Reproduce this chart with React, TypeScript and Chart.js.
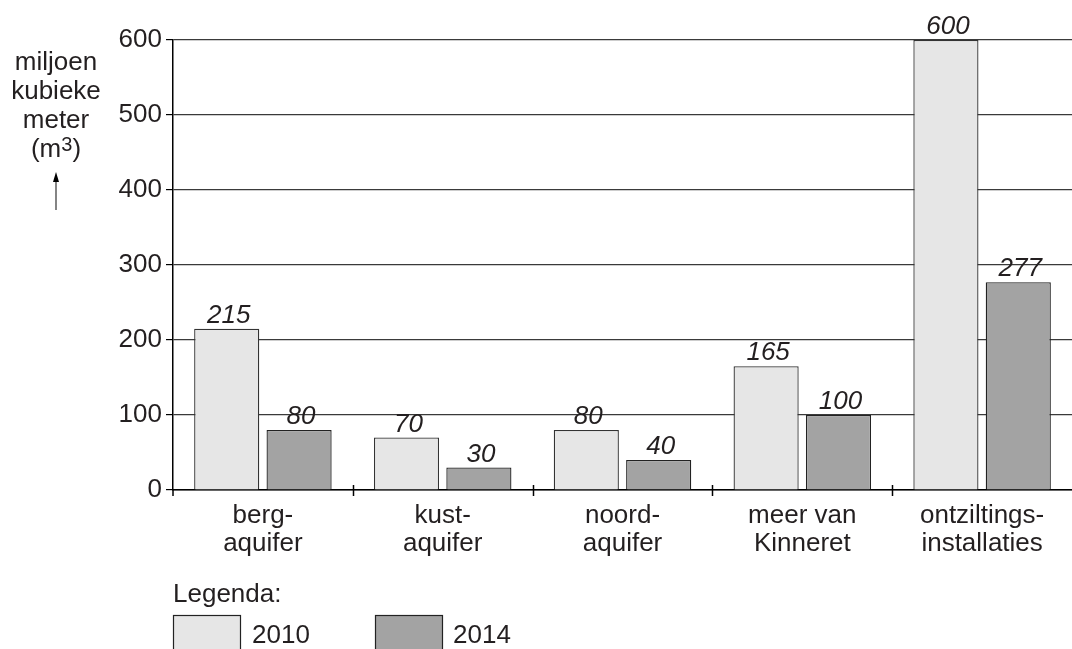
import React, { useEffect, useRef } from "react";
import { Chart, registerables } from "chart.js";

Chart.register(...registerables);

const categories: string[][] = [
  ["berg-", "aquifer"],
  ["kust-", "aquifer"],
  ["noord-", "aquifer"],
  ["meer van", "Kinneret"],
  ["ontziltings-", "installaties"],
];
const values2010: number[] = [215, 70, 80, 165, 600];
const values2014: number[] = [80, 30, 40, 100, 277];
const seriesNames: string[] = ["2010", "2014"];
const yTitleLines: string[] = ["miljoen", "kubieke", "meter"];
const legendTitle = "Legenda:";

const FONT = "'Liberation Sans', Arial, sans-serif";
const TEXT = "#231f20";
const C2010 = "#e6e6e6";
const C2014 = "#a3a3a3";
const FS = 26;

const overlay = {
  id: "overlay",
  afterDatasetsDraw(chart: any) {
    const ctx = chart.ctx;
    ctx.save();
    ctx.fillStyle = TEXT;
    ctx.font = `italic ${FS}px ${FONT}`;
    ctx.textAlign = "center";
    ctx.textBaseline = "alphabetic";
    chart.data.datasets.forEach((ds: any, di: number) => {
      const meta = chart.getDatasetMeta(di);
      meta.data.forEach((el: any, i: number) => {
        ctx.fillText(String(ds.data[i]), el.x + 2, el.y - 6);
      });
    });
    ctx.restore();
  },
  afterDraw(chart: any) {
    const ctx = chart.ctx;
    const y = chart.scales.y;
    const area = chart.chartArea;
    ctx.save();
    // x-axis category boundary ticks (crossing axis)
    ctx.strokeStyle = "#000";
    ctx.lineWidth = 1.5;
    const y0 = y.getPixelForValue(0);
    const n = categories.length;
    const step = (area.right - area.left) / n;
    for (let i = 1; i < n; i++) {
      const px = Math.round(area.left + step * i) + 0.5;
      ctx.beginPath();
      ctx.moveTo(px, y0 - 5);
      ctx.lineTo(px, y0 + 6);
      ctx.stroke();
    }
    ctx.beginPath();
    ctx.moveTo(area.left, y0);
    ctx.lineTo(area.left, y0 + 6);
    ctx.stroke();
    // y-axis title
    ctx.fillStyle = TEXT;
    ctx.font = `${FS}px ${FONT}`;
    ctx.textAlign = "center";
    ctx.textBaseline = "alphabetic";
    const cx = 56;
    yTitleLines.forEach((t, i) => {
      ctx.fillText(t, cx, 70 + i * 29);
    });
    // (m3)
    ctx.textAlign = "left";
    const p1 = "(m";
    const sup = "3";
    const p2 = ")";
    ctx.font = `${FS}px ${FONT}`;
    const w1 = ctx.measureText(p1).width;
    const w3 = ctx.measureText(p2).width;
    ctx.font = `20px ${FONT}`;
    const w2 = ctx.measureText(sup).width;
    const total = w1 + w2 + w3;
    let sx = cx - total / 2;
    const by = 70 + 3 * 29;
    ctx.font = `${FS}px ${FONT}`;
    ctx.fillText(p1, sx, by);
    sx += w1;
    ctx.font = `20px ${FONT}`;
    ctx.fillText(sup, sx, by - 6);
    sx += w2;
    ctx.font = `${FS}px ${FONT}`;
    ctx.fillText(p2, sx, by);
    // arrow
    ctx.strokeStyle = "#333";
    ctx.lineWidth = 1.2;
    ctx.beginPath();
    ctx.moveTo(56, 210);
    ctx.lineTo(56, 178);
    ctx.stroke();
    ctx.fillStyle = "#000";
    ctx.beginPath();
    ctx.moveTo(56, 172);
    ctx.lineTo(53, 182);
    ctx.lineTo(59, 182);
    ctx.closePath();
    ctx.fill();
    // legend
    ctx.fillStyle = TEXT;
    ctx.font = `${FS}px ${FONT}`;
    ctx.textAlign = "left";
    ctx.fillText(legendTitle, 173, 602);
    const items = [
      { name: seriesNames[0], color: C2010, bx: 173, tx: 252 },
      { name: seriesNames[1], color: C2014, bx: 375, tx: 453 },
    ];
    items.forEach((it) => {
      ctx.fillStyle = it.color;
      ctx.fillRect(it.bx + 0.5, 615.5, 67, 40);
      ctx.strokeStyle = "#222";
      ctx.lineWidth = 1.2;
      ctx.strokeRect(it.bx + 0.5, 615.5, 67, 40);
      ctx.fillStyle = TEXT;
      ctx.fillText(it.name, it.tx, 643);
    });
    ctx.restore();
  },
};

export default function App() {
  const ref = useRef<HTMLCanvasElement | null>(null);
  useEffect(() => {
    if (!ref.current) return;
    const chart = new Chart(ref.current, {
      type: "bar",
      data: {
        labels: categories,
        datasets: [
          {
            label: seriesNames[0],
            data: values2010,
            backgroundColor: C2010,
            borderColor: "#333",
            borderWidth: 1.3,
            categoryPercentage: 0.805,
            barPercentage: 0.9,
          },
          {
            label: seriesNames[1],
            data: values2014,
            backgroundColor: C2014,
            borderColor: "#222",
            borderWidth: 1.3,
            categoryPercentage: 0.805,
            barPercentage: 0.9,
          },
        ],
      },
      options: {
        animation: false,
        responsive: true,
        maintainAspectRatio: false,
        devicePixelRatio: 1,
        layout: { padding: { top: 40, right: 0, left: 0, bottom: 0 } },
        plugins: { legend: { display: false }, tooltip: { enabled: false } },
        scales: {
          x: {
            afterFit: (s: any) => {
              s.height = 649 - 40 - 450;
            },
            grid: { display: false },
            border: { display: true, color: "#000", width: 1.5 },
            ticks: {
              color: TEXT,
              font: { family: FONT, size: FS, lineHeight: 1.08 },
              padding: 4,
              maxRotation: 0,
              autoSkip: false,
            },
          },
          y: {
            min: 0,
            max: 600,
            afterFit: (s: any) => {
              s.width = 173;
            },
            grid: {
              color: "#3a3a3a",
              lineWidth: 1.2,
              tickLength: 7,
              tickColor: "#000",
            },
            border: { display: true, color: "#000", width: 1.5 },
            ticks: {
              stepSize: 100,
              color: TEXT,
              padding: 4,
              font: { family: FONT, size: FS },
            },
          },
        },
      },
      plugins: [overlay],
    });
    return () => chart.destroy();
  }, []);
  return (
    <div style={{ position: "absolute", left: 0, top: 0, width: 1072, height: 649, background: "#fff" }}>
      <canvas ref={ref} />
    </div>
  );
}
